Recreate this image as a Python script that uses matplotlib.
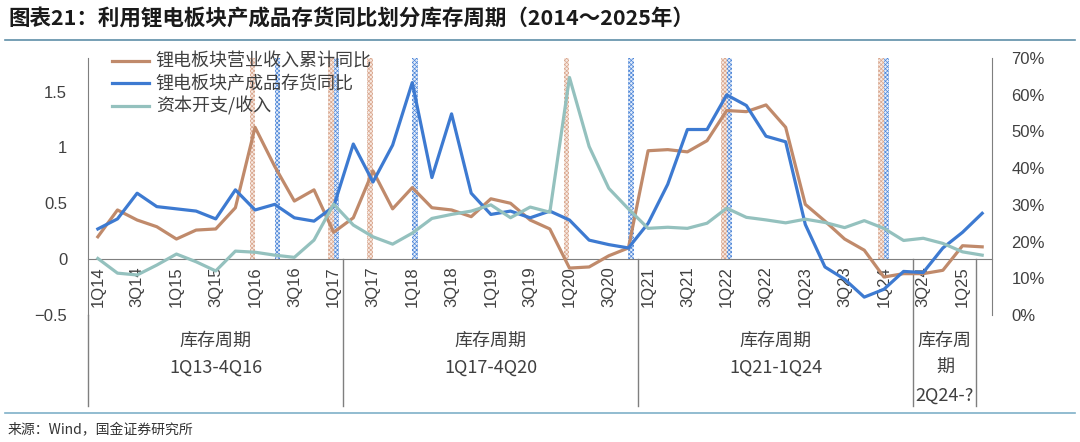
import numpy as np
import matplotlib
matplotlib.use('Agg')
import matplotlib.pyplot as plt
from matplotlib.lines import Line2D

cjk = ['Noto Sans CJK SC', 'DejaVu Sans']
num = ['Liberation Sans', 'DejaVu Sans']

# quarters 1Q14 .. 2Q25
quarters = ['%dQ%d' % (q, y) for y in range(14, 26) for q in range(1, 5)][:46]

# 锂电板块营业收入累计同比 (left axis)
revenue = [0.20, 0.44, 0.35, 0.29, 0.18, 0.26, 0.27, 0.46, 1.18, 0.83, 0.52, 0.62,
           0.24, 0.37, 0.79, 0.45, 0.64, 0.46, 0.44, 0.38, 0.54, 0.50, 0.35, 0.27,
           -0.08, -0.07, 0.03, 0.10, 0.97, 0.98, 0.96, 1.06, 1.33, 1.32, 1.38, 1.18,
           0.49, 0.34, 0.18, 0.08, -0.16, -0.13, -0.13, -0.10, 0.12, 0.11]
# 锂电板块产成品存货同比 (left axis)
inventory = [0.27, 0.36, 0.59, 0.47, 0.45, 0.43, 0.36, 0.62, 0.44, 0.49, 0.37, 0.34,
             0.47, 1.03, 0.69, 1.02, 1.58, 0.73, 1.30, 0.59, 0.40, 0.43, 0.37, 0.43,
             0.35, 0.17, 0.13, 0.10, 0.32, 0.67, 1.16, 1.16, 1.47, 1.375, 1.10, 1.05,
             0.31, -0.07, -0.18, -0.34, -0.27, -0.11, -0.12, 0.10, 0.24, 0.41]
# 资本开支/收入 (right axis, %)
capex = [15.4, 11.4, 10.9, 13.6, 16.6, 14.5, 12.0, 17.4, 17.1, 16.3, 15.7, 20.4,
         30.2, 24.5, 21.3, 19.3, 22.3, 26.3, 27.4, 28.3, 30.0, 26.5, 29.4, 28.0,
         64.7, 45.9, 34.5, 28.9, 23.6, 23.9, 23.6, 25.0, 29.1, 26.6, 25.9, 25.1,
         26.1, 25.2, 23.8, 25.7, 23.6, 20.3, 20.9, 19.5, 17.2, 16.3]

# marker bands (category index)
rev_marks = [8, 12, 14, 24, 32, 40]
inv_marks = [9, 12, 16, 27, 32, 40]

# bottom table: (left edge, right edge, text)
cycles = [(-0.5, 12.5, ['库存周期', '1Q13-4Q16']),
          (12.5, 27.5, ['库存周期', '1Q17-4Q20']),
          (27.5, 41.5, ['库存周期', '1Q21-1Q24']),
          (41.5, 44.7, ['库存周', '期', '2Q24-?'])]

c_rev = '#C08A6B'
c_inv = '#3D7AD1'
c_cap = '#94C1BE'
c_axis = '#7F7F7F'
c_txt = '#404040'

plt.rcParams['hatch.linewidth'] = 0.5

fig = plt.figure(figsize=(10.8, 4.42), dpi=100)
ax = fig.add_axes([88/1080, 127/442, 904/1080, 257/442])
ax2 = ax.twinx()

x = np.arange(len(quarters))

ax.bar(np.array(rev_marks) - 0.14, 1.8, width=0.28, bottom=0, color='#F7EAE3',
       edgecolor='#D9A68D', hatch='xxxxxxxx', linewidth=0, zorder=1)
ax.bar(np.array(inv_marks) + 0.14, 1.8, width=0.28, bottom=0, color='#E6EEFA',
       edgecolor='#4D86D8', hatch='xxxxxxxx', linewidth=0, zorder=1)

l1, = ax.plot(x, revenue, color=c_rev, lw=2.3, zorder=3)
l2, = ax.plot(x, inventory, color=c_inv, lw=2.3, zorder=3)
l3, = ax2.plot(x, np.array(capex) / 100, color=c_cap, lw=2.3, zorder=3)

ax.set_xlim(-0.5, 45.5)
ax.set_ylim(-0.5, 1.8)
ax2.set_ylim(0, 0.7)

for s in ['top', 'right']:
    ax.spines[s].set_visible(False)
for s in ['top', 'left', 'bottom']:
    ax2.spines[s].set_visible(False)
ax.spines['bottom'].set_position(('data', 0))
ax.spines['bottom'].set_color(c_axis)
ax.spines['left'].set_color(c_axis)
ax2.spines['right'].set_color(c_axis)

ax.set_xticks(x[::2])
ax.set_xticklabels(quarters[::2], rotation=90, family=num, fontsize=12, color=c_txt)
ax.tick_params(axis='x', length=0, pad=5)

yt = [-0.5, 0, 0.5, 1, 1.5]
ax.set_yticks(yt)
ax.set_yticklabels(['\u22120.5', '0', '0.5', '1', '1.5'], family=num, fontsize=12, color=c_txt)
ax.tick_params(axis='y', length=0, pad=15)

rt = np.arange(0, 0.71, 0.1)
ax2.set_yticks(rt)
ax2.set_yticklabels(['%d%%' % round(v * 100) for v in rt], family=num, fontsize=12, color=c_txt)
ax2.tick_params(axis='y', length=0, pad=14)

# table lines and text under the axis
bottom = -1.31
ax.plot([-0.5, -0.5], [-0.5, bottom], color=c_axis, lw=1, clip_on=False)
for left, right, lines in cycles:
    if left > -0.5:
        ax.plot([left, left], [0, bottom], color=c_axis, lw=1, clip_on=False)
    mid = (left + right) / 2
    for i, t in enumerate(lines):
        ax.text(mid, -0.73 - 0.245 * i, t, ha='center', va='center',
                family=cjk, fontsize=13, color=c_txt)
ax.plot([44.7, 44.7], [0, bottom], color=c_axis, lw=1, clip_on=False)

ax.legend([l1, l2, l3], ['锂电板块营业收入累计同比', '锂电板块产成品存货同比', '资本开支/收入'],
          loc='upper left', bbox_to_anchor=(0.026, 1.02), frameon=False,
          prop={'family': cjk, 'size': 13}, handlelength=2.1, handletextpad=0.35,
          labelspacing=0.22, borderaxespad=0, borderpad=0, labelcolor=c_txt)

fig.text(8/1080, 1 - 19/442, '图表21：利用锂电板块产成品存货同比划分库存周期（2014～2025年）',
         family=cjk, fontsize=15.5, weight='bold', color='#1A1A1A', va='center')
fig.add_artist(Line2D([5/1080, 1075/1080], [1 - 40/442] * 2, color='#5F8FA8', lw=1.2))
fig.add_artist(Line2D([5/1080, 1075/1080], [1 - 413/442] * 2, color='#7FB0C8', lw=1.2))
fig.text(8/1080, 1 - 430/442, '来源：Wind，国金证券研究所', family=cjk, fontsize=10,
         color='#333333', va='center')

fig.savefig('out.png', dpi=100)
